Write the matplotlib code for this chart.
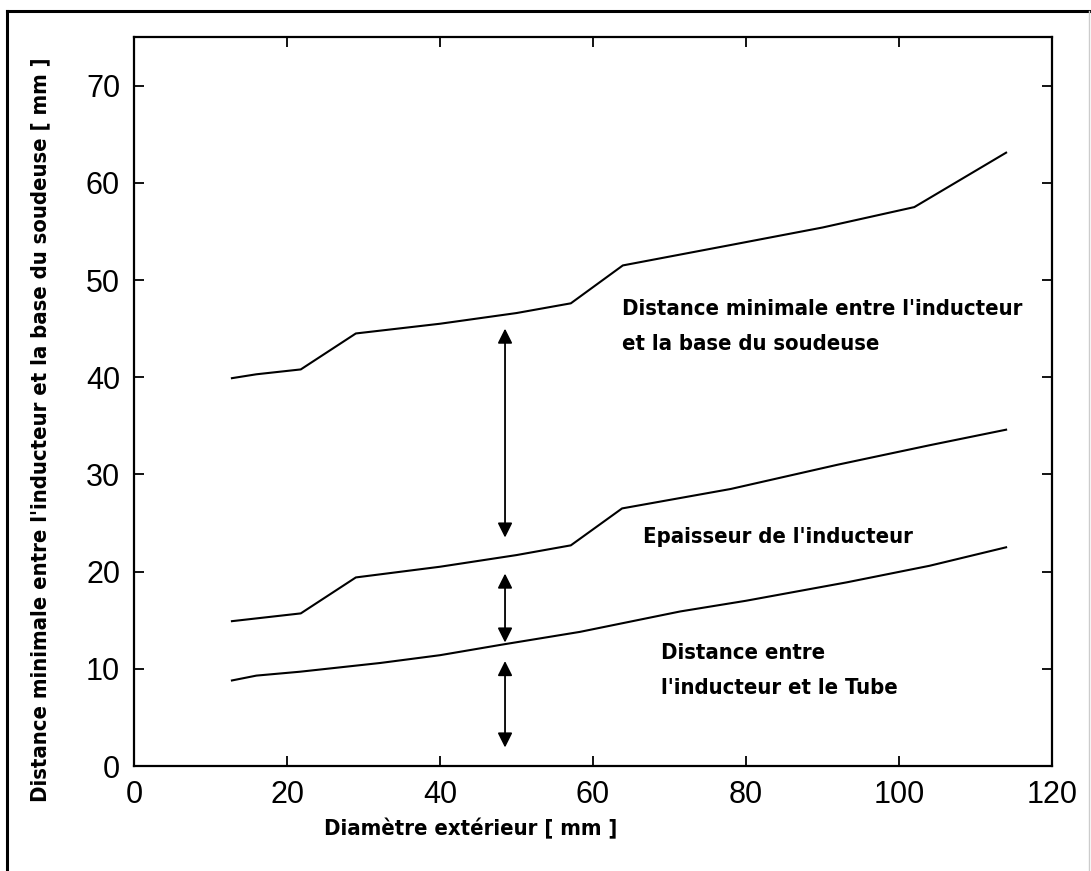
import matplotlib.pyplot as plt
from matplotlib.lines import Line2D

# data
d_haut = [12.8, 16.0, 21.8, 29.0, 40.0, 50.0, 57.1, 63.9, 78.0, 90.0, 102.0, 114.0]
y_haut = [39.9, 40.3, 40.8, 44.5, 45.5, 46.6, 47.6, 51.5, 53.6, 55.4, 57.5, 63.1]

d_mil = [12.8, 21.8, 29.0, 40.0, 50.0, 57.1, 63.8, 78.0, 92.0, 104.0, 114.0]
y_mil = [14.9, 15.7, 19.4, 20.5, 21.7, 22.7, 26.5, 28.5, 31.0, 33.0, 34.6]

d_bas = [12.8, 16.0, 21.7, 32.2, 40.0, 48.2, 58.3, 71.4, 80.0, 93.2, 104.0, 114.0]
y_bas = [8.8, 9.3, 9.7, 10.6, 11.4, 12.5, 13.8, 15.9, 17.0, 18.9, 20.6, 22.5]

x_fleche = 48.5
fleches = [(45.0, 23.5), (19.8, 12.7), (10.8, 1.9)]

txt_font = ['DejaVu Sans']
tick_font = ['Liberation Sans', 'DejaVu Sans']
txt_kw = dict(family=txt_font, fontweight='bold', fontstretch='condensed', fontsize=15.8)

fig = plt.figure(figsize=(10.91, 8.71), dpi=100)
W, H = 1091, 871
ax = fig.add_axes([134 / W, 1 - 766 / H, (1052 - 134) / W, (766 - 37) / H])

for xs, ys in [(d_haut, y_haut), (d_mil, y_mil), (d_bas, y_bas)]:
    ax.plot(xs, ys, color='black', lw=1.5)

for y0, y1 in fleches:
    ax.annotate('', xy=(x_fleche, y1), xytext=(x_fleche, y0),
                arrowprops=dict(arrowstyle='<|-|>', color='black', lw=1.3,
                                mutation_scale=22, shrinkA=0, shrinkB=0))

ax.text(63.8, 47.0, "Distance minimale entre l'inducteur", va='center', ha='left', **txt_kw)
ax.text(63.8, 43.4, "et la base du soudeuse", va='center', ha='left', **txt_kw)
ax.text(66.5, 23.6, "Epaisseur de l'inducteur", va='center', ha='left', **txt_kw)
ax.text(68.9, 11.6, "Distance entre", va='center', ha='left', **txt_kw)
ax.text(68.9, 8.0, "l'inducteur et le Tube", va='center', ha='left', **txt_kw)

ax.set_xlim(0, 120)
ax.set_ylim(0, 75)
ax.set_xticks([0, 20, 40, 60, 80, 100, 120])
ax.set_yticks([0, 10, 20, 30, 40, 50, 60, 70])
ax.tick_params(direction='in', length=7, width=1.3, top=True, right=True,
               labelsize=22, pad=10)
for lab in ax.get_xticklabels() + ax.get_yticklabels():
    lab.set_family(tick_font)
for s in ax.spines.values():
    s.set_linewidth(1.6)

fig.text(471 / W, 1 - 829 / H, "Diamètre extérieur [ mm ]",
         ha='center', va='center', **txt_kw)
fig.text(40 / W, 1 - 430 / H,
         "Distance minimale entre l'inducteur et la base du soudeuse [ mm ]",
         rotation=90, ha='center', va='center', **txt_kw)

# outer frame
fig.add_artist(Line2D([7 / W, 7 / W], [0, 1 - 11 / H], color='black', lw=2.2))
fig.add_artist(Line2D([7 / W, 1], [1 - 11 / H, 1 - 11 / H], color='black', lw=2.2))
fig.add_artist(Line2D([1089 / W, 1089 / W], [0, 1 - 11 / H], color='#cccccc', lw=1))

fig.savefig('out.png', dpi=100)
